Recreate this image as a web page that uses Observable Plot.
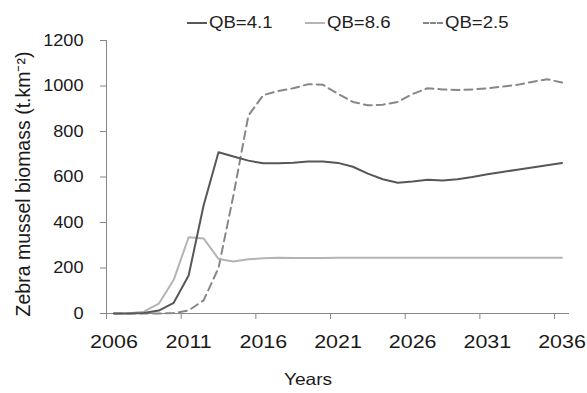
<!DOCTYPE html>
<html>
<head>
<meta charset="utf-8">
<script src="https://cdn.jsdelivr.net/npm/d3@7"></script>
<script src="https://cdn.jsdelivr.net/npm/@observablehq/plot@0.6"></script>
<style>
  html, body { margin: 0; padding: 0; background: #fff; }
  #wrap { position: relative; width: 587px; height: 393px; font-family: "Liberation Sans", Arial, sans-serif; }
  #legend { position: relative; height: 30px; width: 587px; }
  .item { position: absolute; top: 12px; display: flex; align-items: center; font-size: 16px; color: #222; line-height: 22px; }
  .item span { display: inline-block; transform: scaleX(1.16); transform-origin: left center; }
  .sw { width: 20px; height: 0; margin-right: 2px; }
</style>
</head>
<body>
<div id="wrap">
  <div id="legend"></div>
  <div id="chart"></div>
</div>
<script>
const years = [2006,2007,2008,2009,2010,2011,2012,2013,2014,2015,2016,2017,2018,2019,2020,2021,2022,2023,2024,2025,2026,2027,2028,2029,2030,2031,2032,2033,2034,2035,2036];
const qb41 = [0,0,2,13,47,167,475,709,690,672,660,660,663,668,668,662,645,615,590,575,580,588,585,590,600,612,622,632,642,652,662];
const qb86 = [0,1,8,43,148,335,330,240,229,238,243,245,244,244,244,245,245,245,245,245,245,245,245,245,245,245,245,245,245,245,245];
const qb25 = [0,0,0,0,2,13,58,200,520,870,960,978,990,1008,1005,965,930,915,918,930,965,990,985,982,985,990,997,1005,1018,1030,1015];
const seriesNames = ["QB=4.1", "QB=8.6", "QB=2.5"];
const seriesColors = ["#575757", "#b4b4b4", "#878787"];
const seriesDash = [null, null, "8,5"];
const xTicks = [2006, 2011, 2016, 2021, 2026, 2031, 2036];
const yTicks = [0, 200, 400, 600, 800, 1000, 1200];
const yLabel = "Zebra mussel biomass (t.km\u207B\u00B2)";
const xLabel = "Years";

// legend
const legend = document.getElementById("legend");
const legendLeft = [187, 305, 423];
seriesNames.forEach((n, i) => {
  const it = document.createElement("div");
  it.className = "item";
  it.style.left = legendLeft[i] + "px";
  const sw = document.createElement("div");
  sw.className = "sw";
  sw.style.borderTop = `2px ${seriesDash[i] ? "dashed" : "solid"} ${seriesColors[i]}`;
  const t = document.createElement("span");
  t.textContent = n;
  it.appendChild(sw); it.appendChild(t);
  legend.appendChild(it);
});

const series = [qb41, qb86, qb25];
const rows = [];
series.forEach((vals, s) => vals.forEach((v, i) => rows.push({year: years[i], value: v, s})));

// categories are centred between the tick marks (Excel category axis)
const lineFor = (s) => Plot.line(rows.filter(d => d.s === s), {
  x: d => d.year + 0.5, y: "value",
  stroke: seriesColors[s], strokeWidth: 2,
  strokeDasharray: seriesDash[s] || undefined
});

const plot = Plot.plot({
  width: 587,
  height: 363,
  marginLeft: 106,
  marginRight: 18,
  marginTop: 10,
  marginBottom: 80,
  style: {fontFamily: "'Liberation Sans', Arial, sans-serif", background: "#fff", color: "#1a1a1a"},
  x: {domain: [2006, 2037], label: null},
  y: {domain: [0, 1200], label: null},
  marks: [
    Plot.axisY({ticks: yTicks, tickSize: 6, tickPadding: 17, fontSize: 16.5, stroke: "#878787", label: null, tickFormat: d => String(d)}),
    Plot.axisX({ticks: xTicks, tickSize: 6, text: null, stroke: "#878787", label: null}),
    Plot.axisX({ticks: xTicks.map(y => y + 0.5), tickSize: 0, tickPadding: 21, fontSize: 18.5, label: null, tickFormat: d => String(d - 0.5)}),
    Plot.ruleX([2006], {stroke: "#878787"}),
    Plot.ruleY([0], {stroke: "#878787"}),
    lineFor(2),
    lineFor(1),
    lineFor(0),
    Plot.text([yLabel], {text: d => d, frameAnchor: "left", textAnchor: "middle", rotate: -90, dx: -83, dy: 7, fontSize: 19.5, fill: "#1a1a1a"}),
    Plot.text([xLabel], {text: d => d, frameAnchor: "bottom", textAnchor: "middle", dx: -30, dy: 71, fontSize: 16.5, fill: "#1a1a1a"})
  ]
});
document.getElementById("chart").appendChild(plot);

// widen glyphs horizontally to match the reference's stretched type
function stretch(sel, k) {
  sel.each(function() {
    const w = this.getComputedTextLength();
    if (w > 0) {
      this.setAttribute("textLength", (w * k).toFixed(2));
      this.setAttribute("lengthAdjust", "spacingAndGlyphs");
    }
  });
}
const svg = d3.select(plot);
stretch(svg.selectAll('g[aria-label="x-axis tick label"] text'), 1.16);
stretch(svg.selectAll('g[aria-label="y-axis tick label"] text'), 1.1);
stretch(svg.selectAll('g[aria-label="text"] text').filter(function() { return this.textContent === xLabel; }), 1.16);
</script>
</body>
</html>
